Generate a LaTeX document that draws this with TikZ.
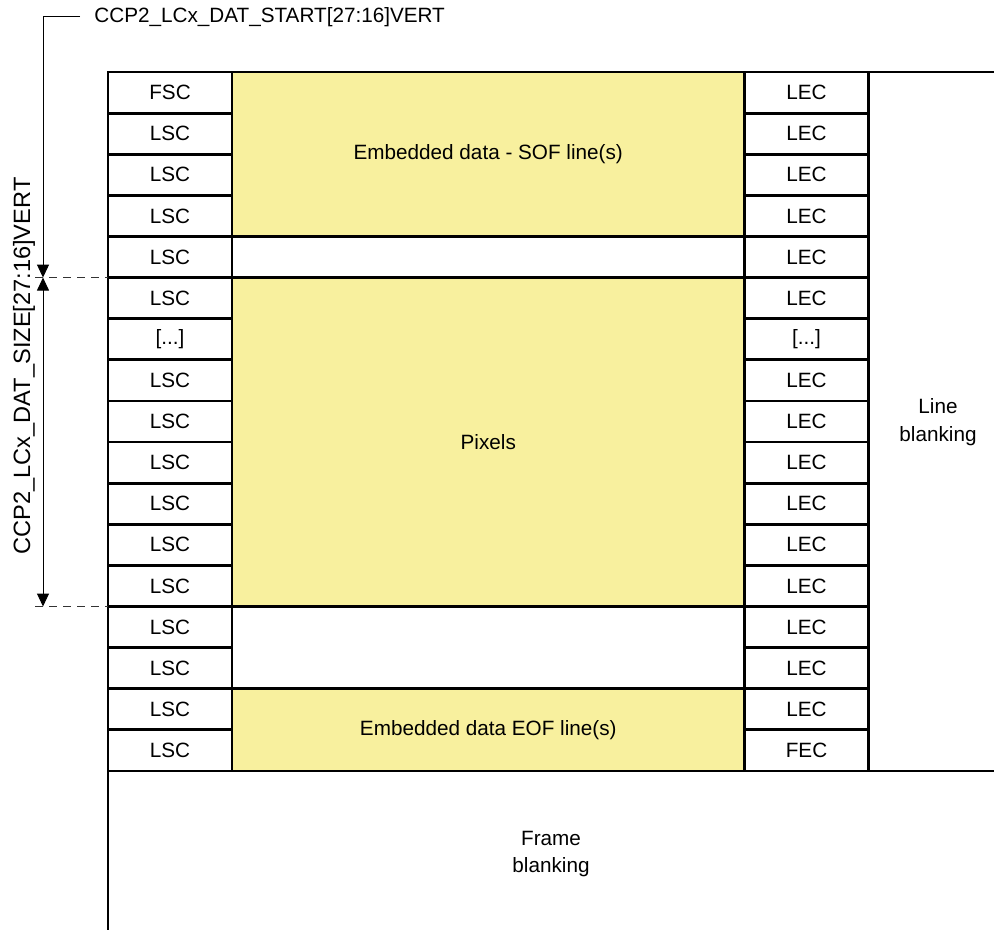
\documentclass[tikz,border=0pt]{standalone}
\usepackage{fontspec}
\setmainfont{Liberation Sans}
\usepackage{xcolor}
\definecolor{datayellow}{HTML}{F8F09E}
\usetikzlibrary{arrows.meta,calc,positioning}
\tikzset{
  >={Triangle[length=6.5pt,width=6pt]},
  every picture/.style={line cap=butt, line join=miter},
  lbl/.style={font=\fontsize{10.35}{13.8}\selectfont, text=black},
  cell/.style={lbl, draw=black, line width=1.4pt, minimum width=62pt,
    minimum height=20.5588pt, inner sep=0pt, outer sep=0pt},
  block/.style={cell, fill=datayellow, minimum width=256.25pt},
  gapblock/.style={cell, minimum width=256.25pt},
  frameline/.style={black, line width=1pt},
  dim/.style={black, line width=0.5pt},
  dimguide/.style={black!80, line width=0.5pt, dash pattern=on 4pt off 3pt},
}
% skipped rows
\newcommand{\skiprow}{[...]}

\begin{document}
\begin{tikzpicture}[x=0.5pt, y=0.5pt]
\useasboundingbox (0,0) rectangle (994,930);
\def\rowh{41.1176}

% ------------------------------------------------------------------ line start / end codes
\foreach \lbl [count=\i] in {FSC,LSC,LSC,LSC,LSC,LSC,\skiprow,LSC,LSC,LSC,LSC,LSC,LSC,LSC,LSC,LSC,LSC}
  \node[cell] (L\i) at (170,{858-(\i-0.5)*\rowh}) {\lbl};
\foreach \lbl [count=\i] in {LEC,LEC,LEC,LEC,LEC,LEC,\skiprow,LEC,LEC,LEC,LEC,LEC,LEC,LEC,LEC,LEC,FEC}
  \node[cell] (R\i) at (806.5,{858-(\i-0.5)*\rowh}) {\lbl};

% ------------------------------------------------------------------ payload
\node[block, minimum height=82.235pt] (sof) at ($(L1.north east)!0.5!(R4.south west)$)
  {Embedded data - SOF line(s)};
\node[gapblock, minimum height=20.5588pt] (gapa) at ($(L5.north east)!0.5!(R5.south west)$) {};
\node[block, minimum height=164.47pt] (pix) at ($(L6.north east)!0.5!(R13.south west)$) {Pixels};
\node[gapblock, minimum height=41.1176pt] (gapb) at ($(L14.north east)!0.5!(R15.south west)$) {};
\node[block, minimum height=41.1176pt] (eof) at ($(L16.north east)!0.5!(R17.south west)$)
  {Embedded data EOF line(s)};

% ------------------------------------------------------------------ blanking
\draw[frameline] (R1.north east) -- +(126,0);
\draw[frameline] (R17.south east) -- +(126,0);
\draw[frameline] (L17.south west) -- (L17.south west |- 0,0);
\node[lbl, align=center] (lineblank) at (938,508) {Line\\blanking};
\node[lbl, align=center] (frameblank) at (551,76) {Frame\\blanking};

% ------------------------------------------------------------------ start and size
\coordinate (dimcorner) at (43,913);
\node[lbl, anchor=west, inner sep=0pt] (startlbl) at (94,913) {CCP2\_LCx\_DAT\_START[27:16]VERT};
\coordinate (sizetop) at (dimcorner |- L5.south west);
\coordinate (sizebot) at (dimcorner |- L13.south west);
\draw[dim, ->] ($(startlbl.west)+(-14,0)$) -- (dimcorner) -- (sizetop);
\draw[dim, <->] (sizetop) -- (sizebot);
\draw[dimguide] ($(sizetop)+(-8,0)$) -- (L5.south west);
\draw[dimguide] ($(sizebot)+(-8,0)$) -- (L13.south west);
\node[lbl, font=\fontsize{11.8}{14}\selectfont, rotate=90] (sizelbl) at (24,564)
  {CCP2\_LCx\_DAT\_SIZE[27:16]VERT};
\end{tikzpicture}
\end{document}
